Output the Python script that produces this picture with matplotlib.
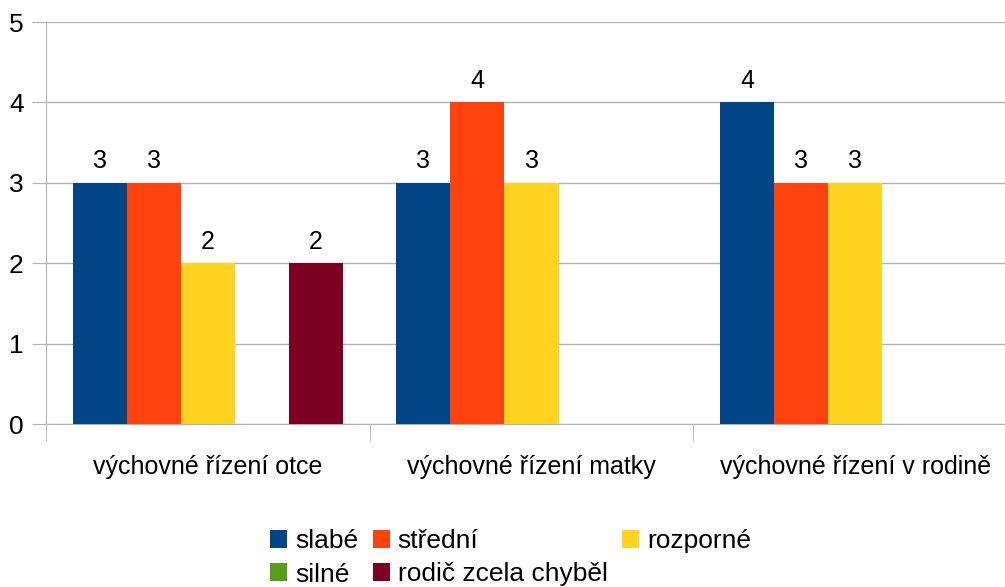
import numpy as np
import matplotlib.pyplot as plt

plt.rcParams['font.family'] = ['Liberation Sans', 'DejaVu Sans']

categories = ['výchovné řízení otce', 'výchovné řízení matky', 'výchovné řízení v rodině']
series = ['slabé', 'střední', 'rozporné', 'silné', 'rodič zcela chyběl']
values = {
    'slabé': [3, 3, 4],
    'střední': [3, 4, 3],
    'rozporné': [2, 3, 3],
    'silné': [0, 0, 0],
    'rodič zcela chyběl': [2, 0, 0],
}
colors = ['#004586', '#ff420e', '#ffd320', '#579d1c', '#7e0021']

fig = plt.figure(figsize=(10.05, 5.87), dpi=100)
ax = fig.add_axes([46 / 1005, 163 / 587, 971 / 1005, 402 / 587])

x = np.arange(len(categories))
w = 0.167
handles = {}
for i, (name, col) in enumerate(zip(series, colors)):
    pos = x + (i - 2) * w
    bars = ax.bar(pos, values[name], width=w, color=col, label=name, zorder=3)
    handles[name] = bars
    for b, v in zip(bars, values[name]):
        if v:
            ax.text(b.get_x() + b.get_width() / 2, v + 0.12, str(v),
                    ha='center', va='bottom', fontsize=18)

ax.set_xlim(-0.5, len(categories) - 0.5)
ax.set_ylim(0, 5)
ax.set_yticks(range(6))
ax.yaxis.grid(True, color='#b3b3b3', linewidth=1, zorder=0)
ax.tick_params(axis='y', length=10, color='#b3b3b3', labelsize=19, pad=6)

ax.set_xticks(x)
ax.set_xticklabels(categories, fontsize=18)
ax.set_xticks(np.arange(len(categories) + 1) - 0.5, minor=True)
ax.tick_params(axis='x', which='major', length=0, pad=22)
ax.tick_params(axis='x', which='minor', length=12, color='#b3b3b3')

for s in ['top', 'right']:
    ax.spines[s].set_visible(False)
for s in ['left', 'bottom']:
    ax.spines[s].set_color('#b3b3b3')

order = ['slabé', 'silné', 'střední', 'rodič zcela chyběl', 'rozporné']
fig.legend([handles[n] for n in order], order, ncol=3, frameon=False,
           loc='upper left', bbox_to_anchor=(270 / 1005, 1 - 529 / 587),
           borderpad=0, borderaxespad=0,
           fontsize=19, handlelength=0.65, handleheight=0.65,
           handletextpad=0.3, columnspacing=0.55, labelspacing=0.36)

fig.savefig('out.png', dpi=100)
